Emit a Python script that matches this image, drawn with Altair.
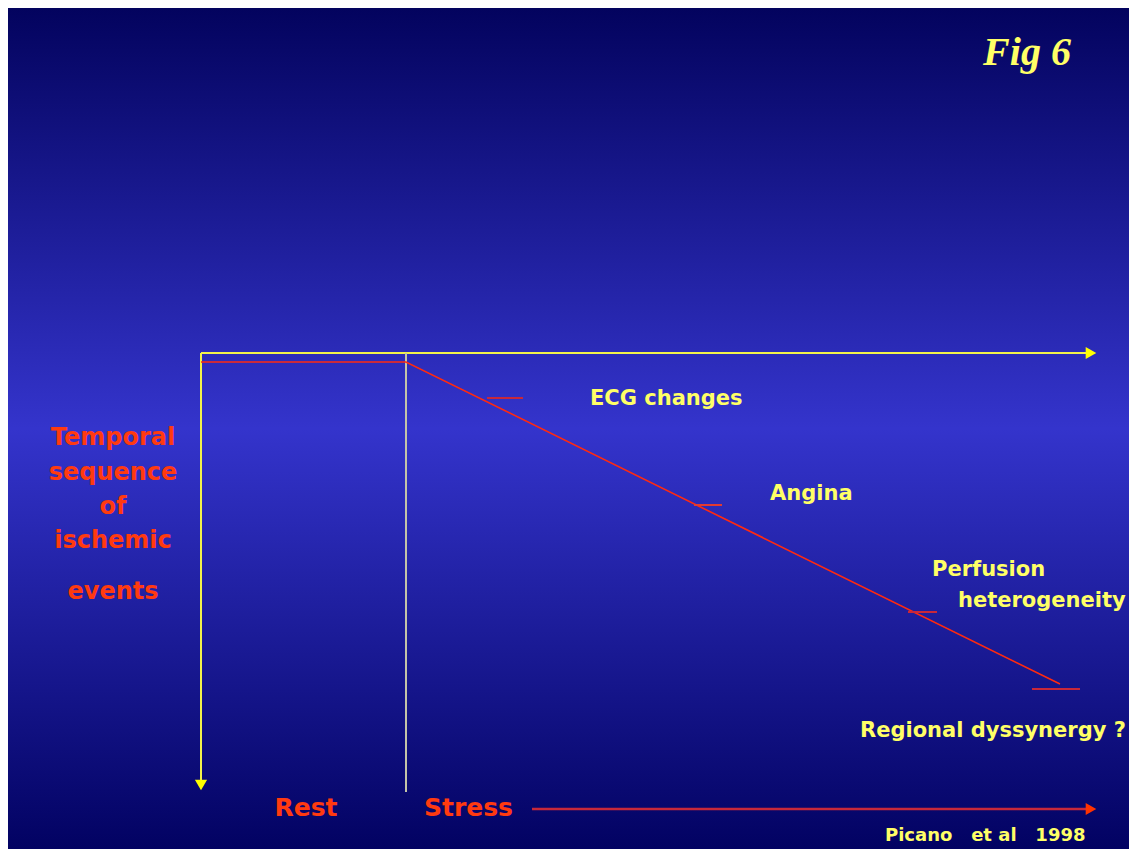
import altair as alt
import pandas as pd

W, H = 1121, 841

# ---- data (slide pixel coordinates) ----
# axes / frame lines: x1, y1, x2, y2, colour, width
axis_x1 = [201, 201, 406]
axis_y1 = [353, 353, 353]
axis_x2 = [1088, 201, 406]
axis_y2 = [353, 784, 792]
axis_col = ["#f2f24a", "#f2f24a", "#c4c4a8"]
axis_w = [2, 2, 2]

# red sequence line (rest plateau then stress decline)
seq_x = [201, 406, 1060]
seq_y = [362, 362, 684]

# event markers (short red ticks)
tick_x1 = [487, 694, 908, 1032]
tick_x2 = [523, 722, 937, 1080]
tick_y = [398, 505, 612, 689]
tick_col = ["#c8283a", "#e23a30", "#c8283a", "#c8283a"]

# stress time arrow
stress_x1, stress_x2, stress_y = 532, 1086, 809

# arrow heads
arrow_x = [1091, 201, 1091]
arrow_y = [353, 785, 809]
arrow_shape = ["triangle-right", "triangle-down", "triangle-right"]
arrow_col = ["#ffff00", "#ffff00", "#ff3300"]

NB = "\u00a0"
# yellow event labels (left aligned)
ev_labels = ["ECG changes", "Angina", "Perfusion", "heterogeneity", "Regional dyssynergy ?",
             f"Picano{NB*3}et al{NB*3}1998"]
ev_x = [590, 770, 932, 958, 860, 885]
ev_y = [399, 494, 570, 601, 731, 836]
ev_size = [21, 21, 21, 21, 21, 18]

# red labels (centered)
red_labels = ["Temporal", "sequence", "of", "ischemic", "events", "Rest"]
red_x = [113, 113, 113, 113, 113, 306]
red_y = [438, 473, 507, 541, 592, 808]
red_size = [24, 24, 24, 24, 24, 25]

# red label left aligned
stress_label = "Stress"
stress_lx, stress_ly = 424, 808

fig_label = "Fig 6"

xs = alt.Scale(domain=[8, 8 + W], range=[0, W])
ys = alt.Scale(domain=[8, 8 + H], reverse=True)

def X(f, **k):
    return alt.X(f, type="quantitative", scale=xs, axis=None, **k)

def Y(f, **k):
    return alt.Y(f, type="quantitative", scale=ys, axis=None, **k)

bg = alt.Chart(pd.DataFrame({"a": [0]})).mark_rect(
    color=alt.Gradient(
        gradient="linear", x1=0, y1=0, x2=0, y2=1,
        stops=[
            alt.GradientStop(offset=0, color="#03035e"),
            alt.GradientStop(offset=0.5, color="#3434cc"),
            alt.GradientStop(offset=1, color="#020262"),
        ],
    )
).encode(x=alt.value(0), x2=alt.value(W), y=alt.value(0), y2=alt.value(H))

axes_df = pd.DataFrame({"x1": axis_x1, "y1": axis_y1, "x2": axis_x2, "y2": axis_y2,
                        "c": axis_col, "w": axis_w})
axes = alt.Chart(axes_df).mark_rule().encode(
    x=X("x1"), y=Y("y1"), x2="x2", y2="y2",
    color=alt.Color("c:N", scale=None),
    strokeWidth=alt.StrokeWidth("w:Q", scale=None),
)

seq_df = pd.DataFrame({"x": seq_x, "y": seq_y, "o": list(range(len(seq_x)))})
seq = alt.Chart(seq_df).mark_line(color="#ff2a10", strokeWidth=1.6).encode(
    x=X("x"), y=Y("y"), order="o:Q"
)

tick_df = pd.DataFrame({"x1": tick_x1, "x2": tick_x2, "y": tick_y, "c": tick_col})
ticks = alt.Chart(tick_df).mark_rule(strokeWidth=2).encode(
    x=X("x1"), x2="x2", y=Y("y"), color=alt.Color("c:N", scale=None)
)

stress_df = pd.DataFrame({"x1": [stress_x1], "x2": [stress_x2], "y": [stress_y]})
stress_line = alt.Chart(stress_df).mark_rule(color="#c8283a", strokeWidth=2.5).encode(
    x=X("x1"), x2="x2", y=Y("y")
)

arr_df = pd.DataFrame({"x": arrow_x, "y": arrow_y, "s": arrow_shape, "c": arrow_col})
arrows = alt.Chart(arr_df).mark_point(filled=True, opacity=1, size=150).encode(
    x=X("x"), y=Y("y"),
    shape=alt.Shape("s:N", scale=None),
    color=alt.Color("c:N", scale=None),
)

FONT = "DejaVu Sans"

ev_df = pd.DataFrame({"t": ev_labels, "x": ev_x, "y": ev_y, "s": ev_size})
ev_text = alt.Chart(ev_df).mark_text(
    align="left", baseline="middle", font=FONT, fontWeight="bold", color="#ffff66"
).encode(x=X("x"), y=Y("y"), text="t:N", size=alt.Size("s:Q", scale=None))

red_df = pd.DataFrame({"t": red_labels, "x": red_x, "y": red_y, "s": red_size})
red_text = alt.Chart(red_df).mark_text(
    align="center", baseline="middle", font=FONT, fontWeight="bold", color="#ff3a10"
).encode(x=X("x"), y=Y("y"), text="t:N", size=alt.Size("s:Q", scale=None))

st_df = pd.DataFrame({"t": [stress_label], "x": [stress_lx], "y": [stress_ly]})
st_text = alt.Chart(st_df).mark_text(
    align="left", baseline="middle", font=FONT, fontWeight="bold", color="#ff3a10", fontSize=25
).encode(x=X("x"), y=Y("y"), text="t:N")

fig_df = pd.DataFrame({"t": [fig_label], "x": [1027], "y": [53]})
fig_text = alt.Chart(fig_df).mark_text(
    align="center", baseline="middle", font="Liberation Serif", fontStyle="italic",
    fontWeight="bold", color="#ffff66", fontSize=40
).encode(x=X("x"), y=Y("y"), text="t:N")

chart = alt.layer(
    bg, axes, seq, ticks, stress_line, arrows, ev_text, red_text, st_text, fig_text
).properties(
    width=W, height=H, padding=0,
    autosize=alt.AutoSizeParams(type="none"),
).configure_view(stroke=None)

chart.save("out.html", embed_options={"renderer": "svg", "actions": False})
